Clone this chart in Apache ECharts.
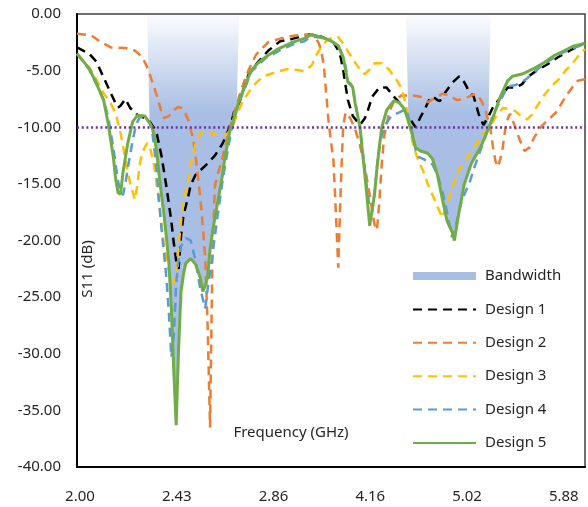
<!DOCTYPE html>
<html>
<head>
<meta charset="utf-8">
<script src="https://cdn.jsdelivr.net/npm/echarts@6/dist/echarts.min.js"></script>
<style>
  html, body { margin: 0; padding: 0; background: #fff; }
  #chart { width: 588px; height: 507px; }
</style>
</head>
<body>
<div id="chart"></div>
<script>
// ---------- data ----------
const tickLabels = ['2.00', '2.43', '2.86', '4.16', '5.02', '5.88'];
const samplesPerLabel = 40;
const sampleCount = 211;
const categories = Array.from({ length: sampleCount }, (_, i) => String(i));
const threshold = -10;
// bandwidth windows (category index where the band starts/ends at 0 dB)
const bandRanges = [[29, 67], [136, 171]];

// [sample index, S11 dB]
const design1 = [
  [0,-2.95],[5,-3.5],[8,-4.2],[11,-5.6],[14,-7.0],[16,-7.9],[17,-8.25],[18,-8.1],[20,-7.5],[22,-8.3],
  [25,-8.9],[28,-9.2],[30,-9.5],[32,-10.1],[33,-10.6],[35,-12.6],[37,-15.3],[39,-18.3],[40,-20.2],[41,-21.8],
  [42,-22.5],[43,-19.6],[44,-17.8],[46,-16.1],[47,-15.1],[49,-14.2],[51,-13.8],[54,-13.2],[57,-12.5],[60,-11.5],
  [62,-10.6],[64,-9.4],[65,-8.6],[67,-7.9],[69,-6.5],[71,-5.3],[75,-4.2],[79,-3.25],[84,-2.4],[89,-2.2],
  [96,-1.8],[101,-2.0],[106,-2.5],[108,-3.2],[109,-3.8],[110,-4.9],[111,-6.3],[112,-7.6],[114,-9.0],[117,-9.8],
  [119,-9.2],[120,-8.7],[122,-7.3],[125,-6.5],[128,-6.5],[131,-7.3],[134,-8.0],[137,-9.0],[139,-9.7],[140,-10.0],
  [142,-9.1],[144,-8.3],[146,-7.4],[147,-7.3],[149,-7.6],[150,-7.7],[152,-7.0],[155,-6.1],[158,-5.5],[160,-6.0],
  [162,-6.8],[164,-7.3],[166,-8.8],[168,-9.8],[170,-9.1],[172,-8.2],[175,-7.4],[178,-6.5],[181,-6.5],[184,-6.2],
  [186,-5.6],[190,-5.0],[194,-4.5],[199,-3.8],[204,-3.2],[209,-2.65],[210,-2.6]
];
const design2 = [
  [0,-1.75],[6,-1.9],[10,-2.5],[14,-2.95],[20,-3.0],[24,-3.25],[27,-3.8],[29,-4.7],[31,-5.9],[33,-7.2],
  [35,-8.7],[36,-9.2],[38,-9.0],[40,-8.5],[42,-8.2],[44,-8.4],[46,-9.35],[48,-11.0],[49,-12.5],[50,-14.4],
  [51,-16.3],[52,-18.7],[53,-21.5],[54,-27.5],[55,-36.5],[56,-21.0],[57,-15.2],[58,-14.3],[60,-12.8],[62,-11.0],
  [64,-9.5],[66,-8.0],[68,-6.6],[71,-4.9],[74,-3.6],[79,-2.5],[86,-2.05],[93,-1.8],[98,-1.9],[100,-2.6],
  [101,-3.3],[102,-4.5],[103,-7.0],[104,-9.5],[105,-11.3],[106,-12.9],[107,-17.5],[108,-22.4],[109,-15.5],[110,-10.0],
  [111,-8.7],[113,-9.2],[115,-10.2],[117,-11.6],[119,-13.5],[121,-16.0],[123,-18.6],[124,-19.1],[125,-16.5],[126,-13.2],
  [127,-10.8],[129,-8.7],[131,-7.7],[134,-7.2],[139,-7.2],[142,-7.3],[145,-7.8],[148,-7.4],[151,-7.05],[154,-7.2],
  [157,-7.6],[160,-7.5],[163,-7.2],[165,-7.05],[167,-7.6],[169,-8.6],[171,-10.3],[172,-11.8],[173,-13.0],[174,-13.5],
  [175,-12.8],[176,-11.8],[177,-10.2],[178,-9.3],[179,-8.8],[181,-9.9],[183,-11.1],[185,-12.1],[187,-11.8],[189,-10.9],
  [192,-9.9],[195,-9.3],[198,-8.7],[201,-7.65],[203,-7.0],[205,-6.4],[207,-5.9],[210,-5.75]
];
const design3 = [
  [0,-3.5],[5,-4.7],[8,-5.8],[11,-7.0],[14,-7.9],[16,-8.8],[18,-10.5],[20,-12.8],[22,-15.0],[24,-16.4],
  [25,-15.0],[26,-13.2],[27,-12.2],[29,-11.4],[30,-11.6],[32,-13.5],[34,-16.8],[36,-20.5],[38,-22.8],[40,-23.8],
  [41,-22.8],[42,-20.5],[43,-18.3],[44,-16.6],[46,-14.6],[47,-13.3],[49,-11.5],[51,-10.5],[53,-10.4],[55,-10.5],
  [59,-10.7],[62,-10.6],[64,-10.1],[66,-9.0],[68,-7.9],[71,-6.9],[73,-6.3],[77,-5.5],[82,-5.15],[87,-4.85],
  [91,-4.95],[94,-5.05],[97,-4.55],[99,-3.6],[101,-2.9],[103,-2.4],[106,-2.0],[108,-2.05],[110,-2.6],[112,-3.3],
  [115,-4.3],[118,-5.2],[119,-5.3],[121,-4.9],[123,-4.35],[126,-4.35],[129,-4.9],[132,-5.8],[134,-6.5],[136,-8.0],
  [138,-10.5],[139,-11.6],[141,-12.9],[143,-13.8],[145,-15.0],[147,-16.0],[149,-17.0],[151,-18.0],[153,-16.8],[155,-15.4],
  [158,-13.7],[161,-12.8],[164,-11.8],[168,-10.6],[171,-9.9],[173,-9.1],[176,-8.3],[179,-8.4],[181,-8.55],[184,-9.1],
  [186,-9.3],[188,-8.9],[190,-8.2],[193,-7.2],[196,-6.4],[199,-5.8],[202,-5.0],[205,-4.3],[208,-3.5],[210,-3.1]
];
const design4 = [
  [0,-3.5],[5,-4.9],[8,-6.2],[11,-7.6],[13,-9.2],[15,-11.8],[17,-14.8],[18,-15.6],[19,-16.0],[20,-15.0],
  [21,-13.6],[22,-12.4],[23,-11.2],[24,-10.2],[25,-9.5],[26,-9.1],[28,-9.1],[30,-9.6],[31,-10.2],[32,-12.0],
  [33,-14.0],[34,-16.8],[35,-19.1],[36,-21.2],[37,-23.4],[38,-26.5],[39,-30.3],[40,-28.5],[41,-23.8],[42,-21.6],
  [43,-20.5],[45,-19.8],[47,-20.0],[49,-21.8],[51,-24.3],[53,-26.0],[54,-24.3],[56,-21.3],[57,-19.6],[58,-18.0],
  [59,-16.5],[60,-15.0],[61,-13.7],[62,-12.4],[63,-11.2],[64,-10.1],[66,-8.5],[67,-7.8],[68,-7.3],[70,-6.2],
  [72,-5.1],[78,-3.9],[84,-3.2],[89,-2.7],[94,-2.4],[97,-2.0],[101,-2.1],[105,-2.4],[108,-2.85],[110,-3.8],
  [111,-4.6],[112,-6.0],[114,-6.5],[115,-7.8],[117,-10.1],[118,-11.9],[120,-15.6],[121,-17.0],[122,-17.4],[123,-15.8],
  [124,-13.6],[125,-11.8],[126,-10.7],[128,-9.6],[130,-9.0],[133,-8.7],[135,-8.5],[136,-8.4],[138,-9.8],[140,-12.0],
  [141,-12.6],[143,-12.8],[145,-13.0],[147,-13.3],[149,-14.2],[151,-15.6],[153,-17.5],[155,-19.7],[156,-19.3],[157,-18.3],
  [159,-16.5],[161,-15.5],[162,-15.1],[164,-13.7],[167,-11.9],[170,-10.15],[172,-8.9],[175,-7.65],[178,-6.4],[181,-6.3],
  [184,-6.0],[186,-5.7],[193,-4.4],[200,-3.5],[205,-3.0],[208,-2.8],[210,-2.7]
];
const design5 = [
  [0,-3.5],[5,-4.8],[8,-6.1],[11,-7.6],[13,-9.8],[15,-12.6],[16,-14.6],[17,-15.8],[18,-15.9],[19,-14.0],
  [20,-12.7],[21,-11.4],[23,-9.5],[25,-8.95],[28,-9.0],[29,-9.3],[30,-9.6],[31,-10.0],[32,-10.8],[33,-12.3],
  [34,-14.3],[35,-16.1],[36,-17.8],[37,-19.8],[38,-22.0],[39,-26.0],[40,-31.5],[41,-36.3],[42,-29.5],[43,-24.5],
  [44,-23.0],[45,-22.0],[47,-21.6],[49,-22.1],[51,-23.3],[52,-24.5],[53,-24.0],[54,-23.2],[55,-20.8],[56,-19.3],
  [57,-18.0],[58,-16.8],[59,-15.6],[60,-14.4],[61,-12.9],[62,-11.7],[63,-10.5],[64,-9.8],[65,-9.1],[66,-8.4],
  [67,-7.6],[68,-7.1],[70,-6.1],[72,-4.95],[75,-4.3],[78,-3.8],[83,-3.1],[89,-2.5],[94,-2.15],[97,-1.8],
  [101,-2.05],[105,-2.35],[108,-2.8],[110,-3.8],[111,-4.9],[112,-6.0],[113,-6.15],[114,-6.5],[115,-7.9],[117,-10.0],
  [118,-12.2],[119,-14.2],[120,-16.4],[121,-18.7],[122,-17.3],[123,-15.9],[124,-13.6],[125,-11.7],[126,-10.0],[128,-8.5],
  [131,-7.65],[133,-7.8],[135,-8.3],[136,-8.8],[137,-9.5],[138,-10.2],[140,-11.8],[142,-12.1],[145,-12.3],[147,-12.8],
  [149,-14.2],[151,-16.3],[153,-18.3],[155,-19.2],[156,-20.0],[158,-17.4],[160,-15.1],[163,-13.2],[167,-11.7],[170,-10.15],
  [172,-9.1],[175,-7.3],[178,-5.9],[180,-5.5],[184,-5.3],[189,-4.8],[193,-4.3],[197,-3.7],[201,-3.3],[205,-2.85],
  [209,-2.65],[210,-2.6]
];

// bandwidth area: follows Design 5 inside each band window, 0 dB at the window edges
const bandwidth = [];
bandRanges.forEach(([lo, hi]) => {
  bandwidth.push([lo, 0]);
  design5.forEach(p => { if (p[0] > lo && p[0] < hi) bandwidth.push(p); });
  bandwidth.push([hi, 0]);
});

// ---------- chart ----------
const FONT = '"Noto Sans", "Open Sans", sans-serif';
const TXT = '#262626';
const chart = echarts.init(document.getElementById('chart'), null, { renderer: 'canvas' });

function lineSeries(name, data, color, dash, width) {
  return {
    name, type: 'line', data, symbol: 'none', showSymbol: false,
    lineStyle: { color, width, type: dash },
    itemStyle: { color },
    z: 3
  };
}

chart.setOption({
  animation: false,
  backgroundColor: '#fff',
  grid: {
    left: 77, top: 14, right: 3, bottom: 40,
    show: true, borderColor: '#404040', borderWidth: 1.5, backgroundColor: 'transparent'
  },
  xAxis: {
    type: 'category',
    data: categories,
    boundaryGap: false,
    axisLine: { onZero: false, lineStyle: { color: '#000', width: 2 } },
    axisTick: { show: false },
    splitLine: { show: false },
    axisLabel: {
      interval: samplesPerLabel - 1,
      formatter: (v, i) => (i % samplesPerLabel === 0 ? tickLabels[i / samplesPerLabel] : ''),
      fontFamily: FONT, fontSize: 15, color: TXT, margin: 22,
      padding: [0, 0, 0, 6]
    }
  },
  yAxis: {
    type: 'value',
    min: -40, max: 0, interval: 5,
    axisLine: { show: true, onZero: false, lineStyle: { color: '#000', width: 2 } },
    axisTick: { show: false },
    splitLine: { show: false },
    axisLabel: {
      formatter: v => v.toFixed(2),
      fontFamily: FONT, fontSize: 15, color: TXT, margin: 16
    }
  },
  legend: {
    orient: 'vertical',
    left: 412, top: 267, padding: 0,
    itemWidth: 63, itemHeight: 8, itemGap: 15.4,
    itemStyle: { opacity: 0, borderWidth: 0 },
    textStyle: { fontFamily: FONT, fontSize: 15, color: TXT, lineHeight: 18, padding: [0, 0, 0, 4] },
    data: [
      { name: 'Bandwidth', icon: 'rect', itemStyle: { color: '#A8BEE4', opacity: 1 } },
      'Design 1', 'Design 2', 'Design 3', 'Design 4', 'Design 5'
    ]
  },
  graphic: [
    {
      type: 'text', x: 88, y: 269, rotation: Math.PI / 2,
      style: { text: 'S11 (dB)', font: '15px ' + FONT, fill: TXT, align: 'center', verticalAlign: 'middle' }
    },
    {
      type: 'text', x: 291, y: 433,
      style: { text: 'Frequency (GHz)', font: '15px ' + FONT, fill: TXT, align: 'center', verticalAlign: 'middle' }
    }
  ],
  series: [
    {
      name: 'Bandwidth', type: 'line', data: bandwidth, symbol: 'none', showSymbol: false,
      lineStyle: { width: 0 },
      itemStyle: { color: '#A8BEE4' },
      areaStyle: {
        color: new echarts.graphic.LinearGradient(0, 0, 0, 1, [
          { offset: 0, color: 'rgba(168,190,228,0.04)' },
          { offset: 0.24, color: 'rgba(168,190,228,1)' },
          { offset: 1, color: 'rgba(168,190,228,1)' }
        ]),
        opacity: 1
      },
      z: 1,
      markLine: {
        silent: true, symbol: 'none', label: { show: false },
        lineStyle: { color: '#7030A0', width: 2.5, type: [2, 2.7] },
        data: [{ yAxis: threshold }]
      }
    },
    lineSeries('Design 1', design1, '#000000', [9, 6], 2.5),
    lineSeries('Design 2', design2, '#ED7D31', [9, 6], 2.5),
    lineSeries('Design 3', design3, '#FFC000', [9, 6], 2.5),
    lineSeries('Design 4', design4, '#5B9BD5', [9, 6], 2.5),
    lineSeries('Design 5', design5, '#70AD47', 'solid', 3)
  ]
});
</script>
</body>
</html>
